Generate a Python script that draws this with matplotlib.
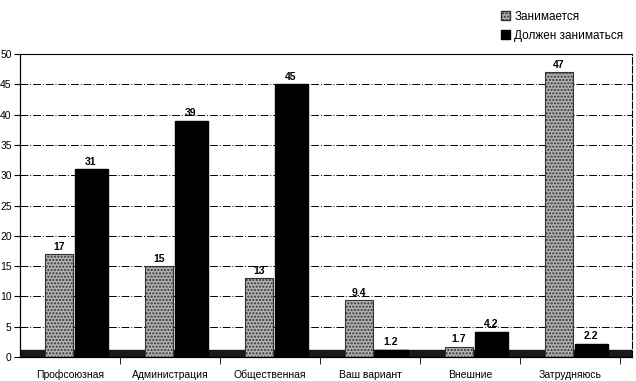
import matplotlib
matplotlib.use("Agg")
import matplotlib.pyplot as plt
import numpy as np
from matplotlib.patches import Patch

categories = ["Профсоюзная", "Администрация", "Общественная", "Ваш вариант", "Внешние", "Затрудняюсь"]
engaged = [17, 15, 13, 9.4, 1.7, 47]
should = [31, 39, 45, 1.2, 4.2, 2.2]
engaged_labels = ["17", "15", "13", "9.4", "1.7", "47"]
should_labels = ["31", "39", "45", "1.2", "4.2", "2.2"]
series_names = ["Занимается", "Должен заниматься"]
yticks = [0, 5, 10, 15, 20, 25, 30, 35, 40, 45, 50]

plt.rcParams['font.family'] = ['Liberation Sans', 'DejaVu Sans']

W, H = 636, 381
fig = plt.figure(figsize=(W / 100, H / 100), dpi=100)
fig.patch.set_facecolor('white')
ax = fig.add_axes([20 / W, 24 / H, 612 / W, 303 / H])

x = np.arange(len(categories))
ax.axhspan(0, 1.1, color='#1a1a1a', zorder=1)
b1 = ax.bar(x - 0.11, engaged, width=0.28, facecolor='#b0b0b0', edgecolor='#333333',
            hatch='.....', linewidth=0.8, zorder=3)
b2 = ax.bar(x + 0.21, should, width=0.33, facecolor='black', edgecolor='black', zorder=3)

for xi, v, t in zip(x, engaged, engaged_labels):
    ax.text(xi - 0.11, v + 0.4, t, ha='center', va='bottom', fontsize=7.5, fontweight='bold', zorder=4)
for xi, v, t in zip(x, should, should_labels):
    ax.text(xi + 0.21, v + 0.4, t, ha='center', va='bottom', fontsize=7.5, fontweight='bold', zorder=4)

ax.set_xlim(-0.5, 5.62)
ax.set_ylim(0, 50)
ax.set_yticks(yticks)
ax.set_yticklabels([str(t) for t in yticks], fontsize=7.5)
ax.set_xticks(x)
ax.set_xticklabels(categories, fontsize=7.5)
ax.tick_params(axis='x', length=0, pad=9)
ax.set_xticks(np.arange(0.5, 5.6, 1.0), minor=True)
ax.tick_params(axis='x', which='minor', length=5, color='black')
ax.tick_params(axis='y', length=4, pad=2)

ax.grid(axis='y', color='black', linewidth=0.7, linestyle=(0, (8, 2, 1, 2)), zorder=0)
ax.set_axisbelow(True)
for s in ['left', 'bottom']:
    ax.spines[s].set_linewidth(0.9)
ax.spines['top'].set_linewidth(0.8)
ax.spines['right'].set_linewidth(0.8)
ax.spines['right'].set_linestyle((0, (6, 2)))

handles = [Patch(facecolor='#b0b0b0', edgecolor='#333333', hatch='.....'),
           Patch(facecolor='black', edgecolor='black')]
leg = fig.legend(handles, series_names, loc='upper right', bbox_to_anchor=(634 / W, 1.0),
                 fontsize=8.5, frameon=False, handlelength=0.7, handleheight=0.7,
                 handletextpad=0.4, labelspacing=0.6)

fig.savefig("out.png", dpi=100)
